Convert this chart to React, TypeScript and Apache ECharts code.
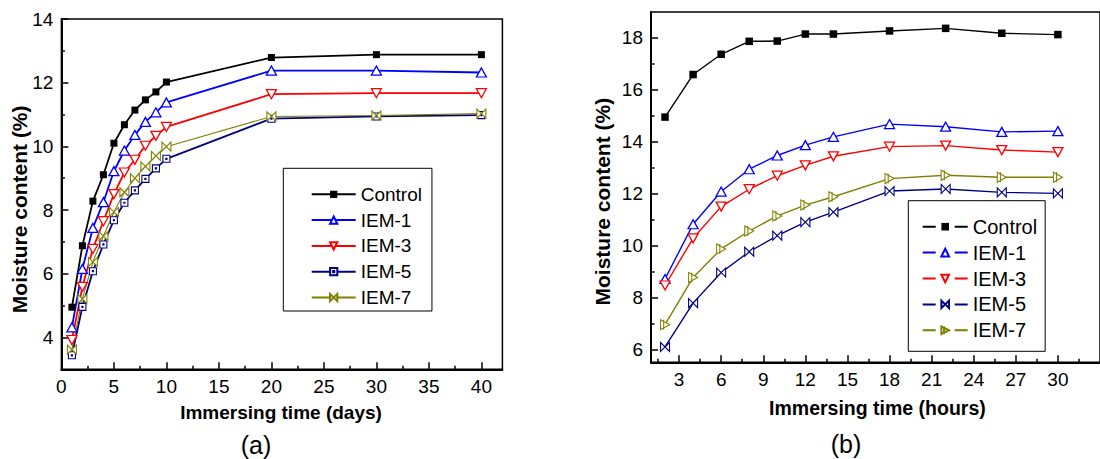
import React, { useEffect, useRef } from "react";
import * as echarts from "echarts";

const F = "'Liberation Sans', Arial, Helvetica, sans-serif";

// ---- (a) days ----
const daysX = [1, 2, 3, 4, 5, 6, 7, 8, 9, 10, 20, 30, 40];
const controlA = [4.95, 6.88, 8.28, 9.11, 10.1, 10.68, 11.14, 11.46, 11.71, 12.02, 12.79, 12.88, 12.88];
const iem1A = [4.32, 6.15, 7.44, 8.25, 9.22, 9.87, 10.36, 10.77, 11.07, 11.38, 12.38, 12.38, 12.32];
const iem3A = [3.92, 5.59, 6.78, 7.65, 8.5, 9.18, 9.58, 10.02, 10.33, 10.61, 11.64, 11.67, 11.67];
const iem5A = [3.44, 4.96, 6.08, 6.92, 7.68, 8.23, 8.62, 8.98, 9.31, 9.61, 10.87, 10.94, 10.98];
const iem7A = [3.62, 5.21, 6.37, 7.18, 7.94, 8.56, 9.0, 9.37, 9.7, 9.99, 10.94, 10.97, 11.03];

// ---- (b) hours ----
const hoursX = [2, 4, 6, 8, 10, 12, 14, 18, 22, 26, 30];
const controlB = [14.95, 16.59, 17.37, 17.87, 17.88, 18.15, 18.15, 18.27, 18.37, 18.18, 18.13];
const iem1B = [8.71, 10.82, 12.08, 12.94, 13.47, 13.87, 14.19, 14.68, 14.58, 14.38, 14.41];
const iem3B = [8.46, 10.28, 11.5, 12.17, 12.69, 13.09, 13.44, 13.81, 13.85, 13.68, 13.6];
const iem5B = [6.09, 7.78, 8.96, 9.76, 10.38, 10.9, 11.29, 12.1, 12.18, 12.05, 12.01];
const iem7B = [6.95, 8.77, 9.87, 10.56, 11.14, 11.56, 11.88, 12.58, 12.71, 12.63, 12.63];

const seriesNames = ["Control", "IEM-1", "IEM-3", "IEM-5", "IEM-7"];

// tick labels
const xTicksA = [0, 5, 10, 15, 20, 25, 30, 35, 40];
const xMinorA = [2.5, 7.5, 12.5, 17.5, 22.5, 27.5, 32.5, 37.5];
const yTicksA = [4, 6, 8, 10, 12, 14];
const yMinorA = [5, 7, 9, 11, 13];
const xTicksB = [3, 6, 9, 12, 15, 18, 21, 24, 27, 30];
const xMinorB = [1.5, 4.5, 7.5, 10.5, 13.5, 16.5, 19.5, 22.5, 25.5, 28.5, 31.5];
const yTicksB = [6, 8, 10, 12, 14, 16, 18];
const yMinorB = [7, 9, 11, 13, 15, 17];

const BLUE = "#0000ff";
const RED = "#ff0000";
const NAVY = "#000080";
const OLIVE = "#808000";

const TRI_UP = "path://M5 0 L10 9 L0 9 Z";
const TRI_DOWN = "path://M0 0 L10 0 L5 9 Z";
const SQ_DOT = "path://M0 0 L10 0 L10 10 L0 10 Z M4.2 4.2 L5.8 4.2 L5.8 5.8 L4.2 5.8 Z";
const BOWTIE = "path://M0 0 L10 10 L10 0 L0 10 Z";
const TRI_RIGHT_BAR = "path://M0 0 L10 5 L0 10 Z M3.5 0 L3.5 10";

const pairs = (xs: number[], ys: number[]) => xs.map((x, i) => [x, ys[i]]);

const App: React.FC = () => {
  const ref = useRef<HTMLDivElement>(null);
  useEffect(() => {
    if (!ref.current) return;
    const chart = echarts.init(ref.current, undefined, { renderer: "svg" });

    const axisLineStyle = { color: "#000", width: 2 };
    const labelStyle = { fontSize: 19, color: "#000", fontFamily: F };

    const mainX = (grid: number, min: number, max: number, ticks: number[], margin = 8) => ({
      gridIndex: grid, type: "value", min, max, position: "bottom",
      axisLine: { onZero: false, lineStyle: axisLineStyle },
      axisTick: { inside: true, length: 7, lineStyle: { color: "#000", width: 1.5 }, customValues: ticks },
      axisLabel: { ...labelStyle, margin, customValues: ticks },
      splitLine: { show: false },
    });
    const minorX = (grid: number, min: number, max: number, ticks: number[]) => ({
      gridIndex: grid, type: "value", min, max, position: "bottom",
      axisLine: { show: false, onZero: false },
      axisTick: { inside: true, length: 3.5, lineStyle: { color: "#000", width: 1.5 }, customValues: ticks },
      axisLabel: { show: false },
      splitLine: { show: false },
    });
    const mainY = (grid: number, min: number, max: number, ticks: number[]) => ({
      gridIndex: grid, type: "value", min, max, position: "left",
      axisLine: { show: true, onZero: false, lineStyle: axisLineStyle },
      axisTick: { show: true, inside: true, length: 7, lineStyle: { color: "#000", width: 1.5 }, customValues: ticks },
      axisLabel: { ...labelStyle, margin: 8, customValues: ticks },
      splitLine: { show: false },
    });
    const minorY = (grid: number, min: number, max: number, ticks: number[]) => ({
      gridIndex: grid, type: "value", min, max, position: "left",
      axisLine: { show: false, onZero: false },
      axisTick: { show: true, inside: true, length: 3.5, lineStyle: { color: "#000", width: 1.5 }, customValues: ticks },
      axisLabel: { show: false },
      splitLine: { show: false },
    });

    const hollow = (c: string, w = 1.3) => ({ color: "#fff", borderColor: c, borderWidth: w });

    const seriesA = [
      { name: "Control", data: pairs(daysX, controlA), symbol: "rect", symbolSize: 7, itemStyle: { color: "#000" }, lineStyle: { color: "#000", width: 1.8 } },
      { name: "IEM-1", data: pairs(daysX, iem1A), symbol: TRI_UP, symbolSize: [10, 9], itemStyle: hollow(BLUE), lineStyle: { color: BLUE, width: 1.8 } },
      { name: "IEM-3", data: pairs(daysX, iem3A), symbol: TRI_DOWN, symbolSize: [10, 9], itemStyle: hollow(RED), lineStyle: { color: RED, width: 1.8 } },
      { name: "IEM-5", data: pairs(daysX, iem5A), symbol: SQ_DOT, symbolSize: 7, itemStyle: hollow(NAVY, 1.1), lineStyle: { color: NAVY, width: 1.8 } },
      { name: "IEM-7", data: pairs(daysX, iem7A), symbol: BOWTIE, symbolSize: 9, itemStyle: hollow(OLIVE, 1.1), lineStyle: { color: OLIVE, width: 1.1 } },
    ].map((s) => ({ ...s, type: "line", xAxisIndex: 0, yAxisIndex: 0, z: 3 }));

    const seriesB = [
      { name: "Control ", data: pairs(hoursX, controlB), symbol: "rect", symbolSize: 7.5, itemStyle: { color: "#000" }, lineStyle: { color: "#000", width: 1.4 } },
      { name: "IEM-1 ", data: pairs(hoursX, iem1B), symbol: TRI_UP, symbolSize: [10, 9], itemStyle: hollow(BLUE), lineStyle: { color: BLUE, width: 1.4 } },
      { name: "IEM-3 ", data: pairs(hoursX, iem3B), symbol: TRI_DOWN, symbolSize: [10, 9], itemStyle: hollow(RED), lineStyle: { color: RED, width: 1.4 } },
      { name: "IEM-5 ", data: pairs(hoursX, iem5B), symbol: BOWTIE, symbolSize: 9, itemStyle: hollow(NAVY, 1.1), lineStyle: { color: NAVY, width: 1.4 } },
      { name: "IEM-7 ", data: pairs(hoursX, iem7B), symbol: TRI_RIGHT_BAR, symbolSize: [9, 10], itemStyle: hollow(OLIVE, 1.1), lineStyle: { color: OLIVE, width: 1.4 } },
    ].map((s) => ({ ...s, type: "line", xAxisIndex: 2, yAxisIndex: 2, z: 3 }));

    const titleStyle = (fontSize: number) => ({ fontSize, fontWeight: "bold", fontFamily: F, fill: "#000", align: "center", verticalAlign: "middle" });

    chart.setOption({
      animation: false,
      backgroundColor: "#fff",
      grid: [
        { left: 61.4, top: 19, width: 441, height: 350.3, show: true, borderColor: "#000", borderWidth: 1.5, backgroundColor: "transparent" },
        { left: 651, top: 12, width: 475.8, height: 350.3, show: true, borderColor: "#000", borderWidth: 1.5, backgroundColor: "transparent" },
      ],
      xAxis: [
        mainX(0, 0, 42, xTicksA),
        minorX(0, 0, 42, xMinorA),
        mainX(1, 1, 33, xTicksB),
        minorX(1, 1, 33, xMinorB),
      ],
      yAxis: [
        mainY(0, 3, 14, yTicksA),
        minorY(0, 3, 14, yMinorA),
        mainY(1, 5.5, 19, yTicksB),
        minorY(1, 5.5, 19, yMinorB),
      ],
      legend: [
        {
          data: seriesNames, orient: "vertical", left: 283.3, top: 168.3,
          itemWidth: 44, itemHeight: 9, itemGap: 5.8, padding: [16, 10, 3.5, 27.4],
          borderColor: "#000", borderWidth: 1, backgroundColor: "#fff",
          textStyle: { fontSize: 19, fontFamily: F, color: "#000", lineHeight: 20 },
          selectedMode: false,
        },
        {
          data: seriesNames.map((n) => n + " "), orient: "vertical", left: 908.3, top: 200.7,
          itemWidth: 45, itemHeight: 9.5, itemGap: 5.9, padding: [16, 8, 11, 13.4],
          borderColor: "#000", borderWidth: 1, backgroundColor: "#fff",
          textStyle: { fontSize: 20, fontFamily: F, color: "#000", lineHeight: 20 },
          lineStyle: { type: [13, 19] },
          selectedMode: false,
          formatter: (n: string) => n.trim(),
        },
      ],
      graphic: [
        { type: "text", x: 281, y: 412, style: { text: "Immersing time (days)", ...titleStyle(19) } },
        { type: "text", x: 19.5, y: 209.3, rotation: Math.PI / 2, style: { text: "Moisture content (%)", ...titleStyle(21) } },
        { type: "text", x: 877.4, y: 408, style: { text: "Immersing time (hours)", ...titleStyle(19.5) } },
        { type: "text", x: 602, y: 201.7, rotation: Math.PI / 2, style: { text: "Moisture content (%)", ...titleStyle(21) } },
        { type: "text", x: 256, y: 445, style: { text: "(a)", fontSize: 25, fontFamily: F, fill: "#000", align: "center", verticalAlign: "middle" } },
        { type: "text", x: 846, y: 444, style: { text: "(b)", fontSize: 25, fontFamily: F, fill: "#000", align: "center", verticalAlign: "middle" } },
      ],
      series: [...seriesA, ...seriesB],
    });
    return () => chart.dispose();
  }, []);
  return <div ref={ref} style={{ position: "absolute", left: 0, top: 0, width: 1100, height: 459, background: "#fff" }} />;
};

export default App;
